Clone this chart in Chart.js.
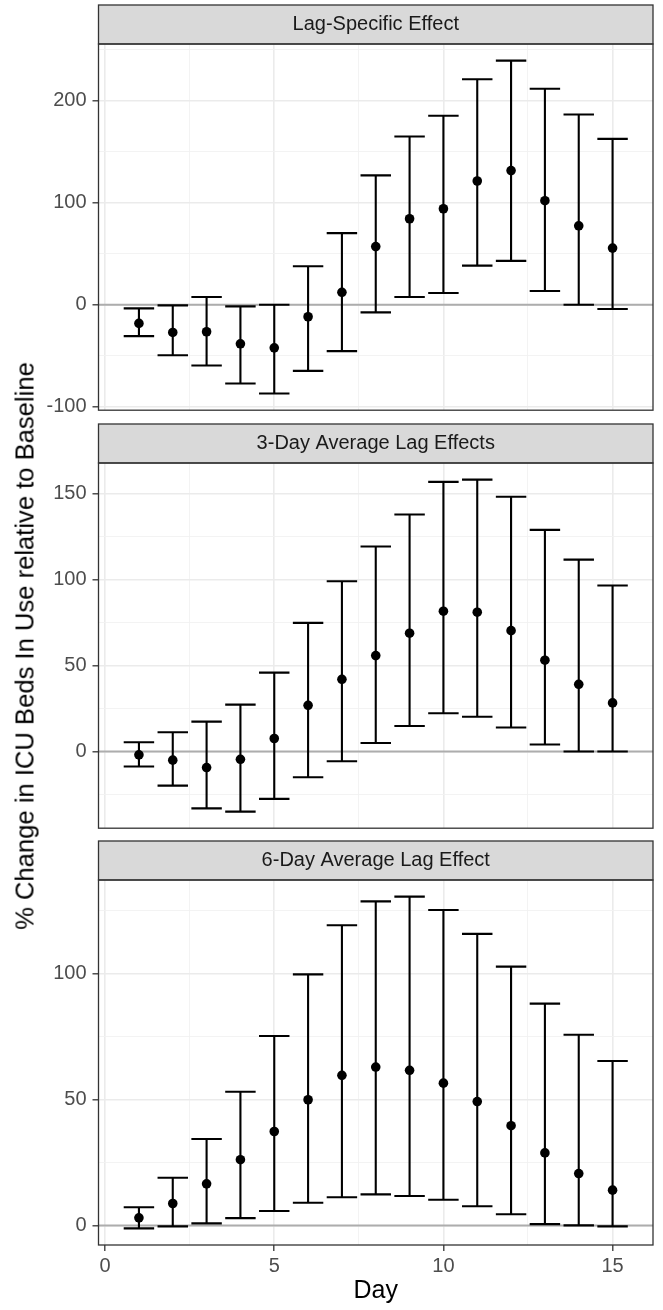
<!DOCTYPE html>
<html>
<head>
<meta charset="utf-8">
<script src="https://cdn.jsdelivr.net/npm/chart.js@4.4.1/dist/chart.umd.min.js"></script>
<style>
  html, body { margin: 0; padding: 0; background: #fff; }
  body { width: 663px; height: 1310px; position: relative; overflow: hidden; font-family: "Liberation Sans", Arial, sans-serif; }
  .panel { position: absolute; left: 0; width: 663px; }
  #ylab { position: absolute; left: 25px; top: 646px; transform: translate(-50%, -50%) rotate(-90deg);
          white-space: nowrap; font-size: 25.6px; color: #000; z-index: 2; }
</style>
</head>
<body>
<div class="panel" style="top:4px;height:411px"><canvas id="p1"></canvas></div>
<div class="panel" style="top:423px;height:410px"><canvas id="p2"></canvas></div>
<div class="panel" style="top:840px;height:470px"><canvas id="p3"></canvas></div>
<div id="ylab">% Change in ICU Beds In Use relative to Baseline</div>
<script>
// data
const days = [1, 2, 3, 4, 5, 6, 7, 8, 9, 10, 11, 12, 13, 14, 15];

const lagEst = [-18.3, -27.2, -26.5, -38.3, -42.3, -11.8, 12.2, 57.0, 84.3, 94.1, 121.3, 131.5, 102.0, 77.4, 55.5];
const lagLo  = [-30.8, -49.5, -59.6, -77.3, -87.1, -64.9, -45.5, -7.5, 7.6, 11.5, 38.3, 43.0, 13.5, 0.0, -4.2];
const lagHi  = [-3.6, -0.6, 7.6, -1.6, 0.0, 37.7, 70.2, 126.8, 164.9, 185.2, 221.0, 239.3, 211.8, 186.5, 162.6];

const avg3Est = [-1.9, -5.0, -9.3, -4.5, 7.6, 26.9, 42.0, 55.8, 68.8, 81.6, 81.0, 70.3, 53.1, 39.1, 28.3];
const avg3Lo  = [-8.7, -19.8, -33.0, -34.9, -27.5, -14.9, -5.6, 5.0, 14.9, 22.3, 20.2, 14.0, 4.1, 0.0, 0.0];
const avg3Hi  = [5.4, 11.2, 17.4, 27.3, 45.9, 74.8, 99.0, 119.2, 137.8, 156.8, 158.1, 148.1, 128.9, 111.6, 96.5];

const avg6Est = [3.0, 8.7, 16.5, 26.1, 37.3, 49.9, 59.6, 62.9, 61.6, 56.5, 49.2, 39.6, 28.8, 20.6, 14.0];
const avg6Lo  = [-1.2, -0.4, 0.8, 2.9, 5.7, 9.0, 11.2, 12.3, 11.7, 10.2, 7.6, 4.4, 0.5, 0.0, -0.4];
const avg6Hi  = [7.2, 18.9, 34.3, 53.1, 75.2, 99.7, 119.2, 128.7, 130.6, 125.3, 115.8, 102.8, 88.1, 75.7, 65.3];

const panelTitles = ["Lag-Specific Effect", "3-Day Average Lag Effects", "6-Day Average Lag Effect"];

const FONT = "'Liberation Sans', Arial, sans-serif";
const CAP = 0.45; // half width of the error bar caps, in days
const STRIP_H = 39;

function isMajor(v, step) {
  return Math.abs(v / step - Math.round(v / step)) < 1e-6;
}

// grey strip, zero line, error bars and the panel border
const facetPlugin = {
  id: "facet",
  beforeDraw(chart) {
    const a = chart.chartArea, ctx = chart.ctx;
    ctx.save();
    ctx.fillStyle = "#D9D9D9";
    ctx.fillRect(a.left, a.top - STRIP_H, a.right - a.left, STRIP_H);
    ctx.restore();
  },
  beforeDatasetsDraw(chart, args, opts) {
    const a = chart.chartArea, ctx = chart.ctx;
    const xs = chart.scales.x, ys = chart.scales.y;
    ctx.save();
    ctx.beginPath();
    ctx.rect(a.left, a.top, a.right - a.left, a.bottom - a.top);
    ctx.clip();
    // reference line at 0
    const y0 = ys.getPixelForValue(0);
    ctx.strokeStyle = "#ADADAD";
    ctx.lineWidth = 2;
    ctx.beginPath();
    ctx.moveTo(a.left, y0);
    ctx.lineTo(a.right, y0);
    ctx.stroke();
    // error bars
    ctx.strokeStyle = "#000";
    ctx.lineWidth = 2.1;
    opts.days.forEach((d, i) => {
      const x = xs.getPixelForValue(d);
      const xl = xs.getPixelForValue(d - CAP);
      const xr = xs.getPixelForValue(d + CAP);
      const yl = ys.getPixelForValue(opts.lo[i]);
      const yh = ys.getPixelForValue(opts.hi[i]);
      ctx.beginPath();
      ctx.moveTo(x, yh); ctx.lineTo(x, yl);
      ctx.moveTo(xl, yh); ctx.lineTo(xr, yh);
      ctx.moveTo(xl, yl); ctx.lineTo(xr, yl);
      ctx.stroke();
    });
    ctx.restore();
  },
  afterDraw(chart) {
    const a = chart.chartArea, ctx = chart.ctx;
    ctx.save();
    ctx.strokeStyle = "#333333";
    ctx.lineWidth = 1.3;
    ctx.strokeRect(a.left, a.top - STRIP_H, a.right - a.left, STRIP_H);
    ctx.strokeRect(a.left, a.top, a.right - a.left, a.bottom - a.top);
    ctx.restore();
  }
};

function makePanel(id, title, est, lo, hi, yStep, yMajor, bottom) {
  const ymin = Math.min(...lo), ymax = Math.max(...hi);
  const ypad = 0.05 * (ymax - ymin);
  const xmin = days[0] - CAP, xmax = days[days.length - 1] + CAP;
  const xpad = 0.05 * (xmax - xmin);

  const gridColor = (step) => (ctx) => isMajor(ctx.tick.value, step) ? "#EBEBEB" : "#F2F2F2";
  const gridWidth = (step) => (ctx) => isMajor(ctx.tick.value, step) ? 1.6 : 0.9;
  const tickColor = (step) => (ctx) => isMajor(ctx.tick.value, step) ? "#333333" : "rgba(0,0,0,0)";

  new Chart(document.getElementById(id), {
    type: "scatter",
    data: {
      datasets: [{
        data: days.map((d, i) => ({ x: d, y: est[i] })),
        pointRadius: 4.8,
        pointHoverRadius: 4.8,
        pointBackgroundColor: "#000",
        pointBorderWidth: 0
      }]
    },
    options: {
      responsive: true,
      maintainAspectRatio: false,
      animation: false,
      events: [],
      layout: { padding: { top: 1, right: 10, left: 0, bottom: bottom ? 0 : 2 } },
      scales: {
        x: {
          type: "linear",
          min: xmin - xpad,
          max: xmax + xpad,
          afterFit(s) {
            s.height = bottom ? 65 : 0;
            s.paddingLeft = 0; s.paddingRight = 0;
          },
          border: { display: false },
          grid: {
            color: gridColor(5),
            lineWidth: gridWidth(5),
            drawTicks: bottom,
            tickLength: 6,
            tickWidth: 1.3,
            tickColor: tickColor(5)
          },
          ticks: {
            display: bottom,
            stepSize: 2.5,
            includeBounds: false,
            autoSkip: false,
            maxRotation: 0,
            minRotation: 0,
            padding: 3,
            color: "#4D4D4D",
            font: { size: 20, family: FONT },
            callback: (v) => isMajor(v, 5) ? v : ""
          },
          title: {
            display: bottom,
            text: "Day",
            color: "#000",
            font: { size: 25, family: FONT },
            padding: { top: 0, bottom: 4 }
          }
        },
        y: {
          type: "linear",
          min: ymin - ypad,
          max: ymax + ypad,
          afterFit(s) {
            s.width = 98.5;
            s.paddingTop = 0; s.paddingBottom = 0;
          },
          border: { display: false },
          grid: {
            color: gridColor(yMajor),
            lineWidth: gridWidth(yMajor),
            drawTicks: true,
            tickLength: 6,
            tickWidth: 1.3,
            tickColor: tickColor(yMajor)
          },
          ticks: {
            stepSize: yStep,
            includeBounds: false,
            autoSkip: false,
            padding: 6,
            color: "#4D4D4D",
            font: { size: 20, family: FONT },
            callback: (v) => isMajor(v, yMajor) ? v : ""
          }
        }
      },
      plugins: {
        legend: { display: false },
        tooltip: { enabled: false },
        title: {
          display: true,
          text: title,
          fullSize: false,
          color: "#1A1A1A",
          font: { size: 20, weight: "normal", family: FONT, lineHeight: 1.2 },
          padding: { top: 7.5, bottom: 7.5 }
        },
        facet: { days: days, lo: lo, hi: hi }
      }
    },
    plugins: [facetPlugin]
  });
}

makePanel("p1", panelTitles[0], lagEst, lagLo, lagHi, 50, 100, false);
makePanel("p2", panelTitles[1], avg3Est, avg3Lo, avg3Hi, 25, 50, false);
makePanel("p3", panelTitles[2], avg6Est, avg6Lo, avg6Hi, 25, 50, true);
</script>
</body>
</html>
